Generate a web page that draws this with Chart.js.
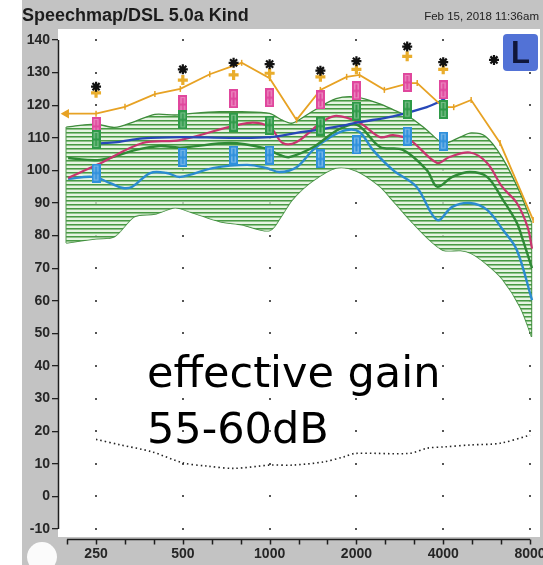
<!DOCTYPE html>
<html>
<head>
<meta charset="utf-8">
<title>Speechmap/DSL 5.0a Kind</title>
<script src="https://cdn.jsdelivr.net/npm/chart.js@4.4.1/dist/chart.umd.min.js"></script>
<style>
  html, body { margin: 0; padding: 0; background: #fff; }
  #wrap  { position: relative; width: 543px; height: 565px; overflow: hidden; }
  #chart { position: absolute; left: 0; top: 0; }
  .hdr-title { position: absolute; left: 22px; top: 6px; white-space: nowrap;
               font: bold 18px 'Liberation Sans', Arial, sans-serif; line-height: 18px; color: #1c1c1c; }
  .hdr-date  { position: absolute; right: 4px; top: 10px; white-space: nowrap;
               font: 11.5px 'Liberation Sans', Arial, sans-serif; line-height: 12px; color: #222; }
  .side-box  { position: absolute; left: 503px; top: 34px; width: 35px; height: 37px; border-radius: 4px;
               background: #5272d6; color: #10163a; text-align: center;
               font: bold 31px 'Liberation Sans', Arial, sans-serif; line-height: 37px; }
  .note      { position: absolute; left: 147px; top: 344px; white-space: nowrap;
               font: 43px 'DejaVu Sans', Verdana, sans-serif; line-height: 56px; color: #000; }
</style>
</head>
<body>
<div id="wrap">
  <canvas id="chart" width="543" height="565"></canvas>
  <div class="hdr-title">Speechmap/DSL 5.0a Kind</div>
  <div class="hdr-date">Feb 15, 2018 11:36am</div>
  <div class="side-box">L</div>
  <div class="note">effective gain<br>55-60dB</div>
</div>
<script>
/* ── Data (frequency in Hz, level in dB SPL) ─────────────────────────────── */

var xTickLabels = [250, 500, 1000, 2000, 4000, 8000];
var yTicks      = [-10, 0, 10, 20, 30, 40, 50, 60, 70, 80, 90, 100, 110, 120, 130, 140];

// speech range band (hatched)
var bandFreq  = [197, 250, 290, 340, 400, 470, 540, 670, 800, 1000, 1100, 1200, 1400, 1700,
                 2000, 2400, 2700, 3100, 3500, 4000, 4600, 5000, 5600, 6400, 7400, 8100];
var bandUpper = [113.3, 114.2, 113.2, 115, 117.2, 117, 117.5, 118, 118, 117.5, 115.5, 114.5, 118, 122,
                 122.5, 120.5, 118.5, 116, 112.5, 108.4, 110.3, 111.5, 110.5, 104, 93, 84];
var bandLower = [77.7, 79, 79.7, 85.8, 86.6, 88.5, 87, 84.3, 83.3, 81.5, 86, 91, 96.5, 100.7,
                 99.8, 95.2, 90.3, 84.3, 79.5, 75.5, 75.4, 74.5, 71.5, 66.7, 58, 49];

// orange limit line
var orangeFreq  = [197, 250, 315, 400, 490, 620, 800, 1000, 1240, 1500, 1850, 2050, 2500, 3050,
                   3250, 4000, 4350, 5000, 6300, 8200];
var orangeLevel = [117.4, 117.4, 119.5, 123.4, 125, 129.5, 133, 128.3, 115.5, 124.7, 128.7, 129.3,
                   124.7, 126.8, 126.8, 119.4, 119.4, 121.6, 108.4, 84.8];

// audiometric points
var starFreq  = [250, 500, 750, 1000, 1500, 2000, 3000, 4000, 6000];
var starLevel = [125.7, 131, 133, 132.6, 130.6, 133.5, 138, 133.2, 133.9];
var plusLevel = [123.8, 127.7, 129.3, 129.8, 128.7, 131, 135, 131, null];

var markerFreq  = [250, 500, 750, 1000, 1500, 2000, 3000, 4000];
var pinkLevel   = [113.5, 120.2, 122, 122.3, 121.6, 124.4, 127, 124.7];
var greenLevel  = [109.5, 115.5, 114.8, 113.9, 113.6, 118.2, 118.8, 118.7];
var blueLevel   = [99.2, 104, 104.7, 104.7, 103.5, 107.8, 110.5, 109];

// measured curves
var magentaFreq  = [200, 252, 363, 489, 835, 1000, 1110, 1240, 1500, 1700, 2050, 2420, 2680, 3070,
                    3810, 4200, 4950, 5680, 6400, 7200, 7850, 8130];
var magentaLevel = [97.7, 101.7, 108.4, 109.3, 114.5, 113.3, 108.4, 108.7, 114.5, 116.7, 114.6, 110.2,
                    110.8, 109.3, 102.3, 104.1, 105.5, 102.3, 95, 90, 82.6, 76];

var greenFreq      = [200, 258, 344, 417, 490, 730, 950, 1090, 1170, 1420, 1720, 2010, 2415, 2900,
                      3510, 3810, 4300, 4950, 5680, 6450, 7200, 7560, 8130];
var greenLineLevel = [103.8, 103.2, 106.3, 107.5, 107, 108.4, 106.9, 104.7, 104.1, 107.2, 112.4, 114,
                      107.2, 106.3, 100.1, 95, 98, 99.5, 98, 90.9, 83.9, 78.6, 70];

var lightBlueFreq  = [200, 244, 280, 310, 334, 385, 440, 490, 635, 835, 980, 1080, 1240, 1415, 1620,
                      1850, 2050, 2280, 2680, 3230, 3810, 4300, 4950, 5680, 6450, 7200, 8130];
var lightBlueLevel = [97.4, 98, 96.1, 94.6, 95, 99.2, 99.2, 98, 100.7, 101.7, 100.7, 99.5, 101, 106.3,
                      110.2, 112.4, 111.8, 106.3, 100.1, 95, 84.8, 88.8, 90, 87.9, 81.7, 75.6, 60.2];

var darkBlueFreq  = [250, 296, 363, 490, 730, 1000, 1240, 1500, 1850, 2050, 2680, 3510, 4000];
var darkBlueLevel = [108.2, 108.7, 109.8, 110.2, 110, 110.2, 111.5, 112.6, 114, 114.8, 116.6, 119.4, 121.6];

// threshold (dotted)
var dotFreq  = [250, 304, 390, 500, 606, 753, 1000, 1200, 1540, 1820, 1980, 3050, 3520, 4050, 5000, 6300, 8000];
var dotLevel = [17.5, 15.8, 13.7, 10.3, 9.3, 8.6, 9.6, 9.6, 10.6, 12.2, 13.2, 13.2, 14.8, 15.2, 15.8, 16.3, 18.8];

/* ── Helpers ────────────────────────────────────────────────────────────── */

function _pts(freq, level) {
  var out = [];
  freq.forEach(function (f, i) {
    if (level[i] !== null) out.push({ x: f, y: level[i] });
  });
  return out;
}

function _hatch(ctx) {
  var c = document.createElement('canvas');
  c.width = 8; c.height = 4;
  var g = c.getContext('2d');
  g.fillStyle = 'rgba(222,240,216,0.75)'; g.fillRect(0, 0, 8, 4);
  g.fillStyle = '#489a44';                g.fillRect(0, 0, 8, 1);
  g.fillStyle = 'rgba(72,154,68,0.55)';   g.fillRect(0, 1, 8, 1);
  return ctx.createPattern(c, 'repeat');
}

// vertical "+" bar marker used for the measured points
function _barMarker(color) {
  var c = document.createElement('canvas');
  c.width = 9; c.height = 19;
  var g = c.getContext('2d');
  g.fillStyle = color;                    g.fillRect(0, 0, 9, 19);
  g.fillStyle = 'rgba(255,255,255,0.35)'; g.fillRect(2, 2, 5, 15);
  g.fillStyle = color;                    g.fillRect(3.5, 3, 2, 13);
  g.fillRect(1, 8.5, 7, 2);
  return c;
}

function _isOctave(v) {
  return xTickLabels.some(function (t) { return Math.abs(t - v) < 0.5; });
}

/* ── Decoration plugin: paper, grid dots, axis lines ────────────────────── */

var decor = {
  id: 'decor',
  beforeDraw: function (chart) {
    var c = chart.ctx, a = chart.chartArea;
    c.save();
    c.fillStyle = '#ffffff'; c.fillRect(0, 0, chart.width, chart.height);
    c.fillStyle = '#c3c3c3'; c.fillRect(22, 0, chart.width - 22, chart.height);
    c.fillStyle = '#ffffff'; c.fillRect(a.left, a.top - 1, a.right - a.left, a.bottom - a.top + 1);
    c.beginPath(); c.arc(42, 557, 15, 0, Math.PI * 2);
    c.fillStyle = '#fbfbfb'; c.fill();
    c.restore();
  },
  beforeDatasetsDraw: function (chart) {
    var c = chart.ctx, xs = chart.scales.x, ys = chart.scales.y;
    c.save();
    c.fillStyle = '#555';
    xTickLabels.forEach(function (f) {
      yTicks.forEach(function (v) {
        c.fillRect(Math.round(xs.getPixelForValue(f)) - 1, Math.round(ys.getPixelForValue(v)) - 1, 2, 2);
      });
    });
    c.restore();
  },
  afterDraw: function (chart) {
    var c = chart.ctx, a = chart.chartArea, xs = chart.scales.x, ys = chart.scales.y;
    var ticks = xs.ticks;
    var yb = a.bottom + 2.5;
    c.save();
    c.strokeStyle = '#1e1e1e';
    c.lineWidth = 1.5;
    c.beginPath();
    c.moveTo(a.left + 0.5, ys.getPixelForValue(140));
    c.lineTo(a.left + 0.5, ys.getPixelForValue(-10));
    c.stroke();
    c.beginPath();
    c.moveTo(xs.getPixelForValue(ticks[0].value), yb);
    c.lineTo(xs.getPixelForValue(ticks[ticks.length - 1].value), yb);
    ticks.forEach(function (t) {
      var px = Math.round(xs.getPixelForValue(t.value)) + 0.5;
      c.moveTo(px, yb);
      c.lineTo(px, yb + 5);
    });
    c.stroke();
    c.restore();
  }
};

/* ── Chart ──────────────────────────────────────────────────────────────── */

var canvas = document.getElementById('chart');
var ctx    = canvas.getContext('2d');
var hatch  = _hatch(ctx);

var lineBase = { pointRadius: 0, fill: false, tension: 0.35 };

var datasets = [
  // markers on top
  { label: 'UCL', data: _pts(starFreq, starLevel), showLine: false, order: 1,
    pointStyle: 'star', pointRadius: 5, borderColor: '#111', borderWidth: 2.2, backgroundColor: '#111' },
  { label: 'Average', data: _pts(markerFreq, greenLevel), showLine: false, order: 2,
    pointStyle: _barMarker('#2e9a48'), pointRadius: 5 },
  { label: 'Soft', data: _pts(markerFreq, blueLevel), showLine: false, order: 2,
    pointStyle: _barMarker('#2f90dc'), pointRadius: 5 },
  { label: 'Loud', data: _pts(markerFreq, pinkLevel), showLine: false, order: 2.5,
    pointStyle: _barMarker('#e0479d'), pointRadius: 5 },
  { label: 'Target UCL', data: _pts(starFreq, plusLevel), showLine: false, order: 3,
    pointStyle: 'cross', pointRadius: 5, borderColor: '#e9ad2c', borderWidth: 3.2 },

  // measured curves
  Object.assign({}, lineBase, { label: 'MPO', data: _pts(orangeFreq, orangeLevel), order: 4, tension: 0,
    borderColor: '#e7a224', borderWidth: 1.8, backgroundColor: '#e7a224',
    pointRadius: function (c) { return c.dataIndex === 0 ? 4 : 3; },
    pointStyle: function (c) { return c.dataIndex === 0 ? 'triangle' : 'line'; },
    rotation: function (c) { return c.dataIndex === 0 ? -90 : 90; },
    pointBorderWidth: 1.5 }),
  Object.assign({}, lineBase, { label: 'Dark', data: _pts(darkBlueFreq, darkBlueLevel), order: 5,
    borderColor: '#2748b8', borderWidth: 2.3,
    pointStyle: 'crossRot', pointBorderWidth: 2,
    pointRadius: function (c) { return c.dataIndex === darkBlueFreq.length - 1 ? 5 : 0; } }),
  Object.assign({}, lineBase, { label: 'Loud speech', data: _pts(magentaFreq, magentaLevel), order: 6,
    borderColor: '#c8346e', borderWidth: 2.2 }),
  Object.assign({}, lineBase, { label: 'Average speech', data: _pts(greenFreq, greenLineLevel), order: 6,
    borderColor: '#2f8a36', borderWidth: 2.4 }),
  Object.assign({}, lineBase, { label: 'Soft speech', data: _pts(lightBlueFreq, lightBlueLevel), order: 6,
    borderColor: '#2b8bd0', borderWidth: 2.4 }),
  Object.assign({}, lineBase, { label: 'Threshold', data: _pts(dotFreq, dotLevel), order: 7,
    borderColor: '#222', borderWidth: 1.6, borderDash: [1.5, 3], tension: 0.3 }),

  // speech band
  Object.assign({}, lineBase, { label: 'Band upper', data: _pts(bandFreq, bandUpper), order: 9,
    borderColor: '#3f8c3c', borderWidth: 1.3, tension: 0.3, fill: '+1', backgroundColor: hatch }),
  Object.assign({}, lineBase, { label: 'Band lower', data: _pts(bandFreq, bandLower), order: 9,
    borderColor: '#3f8c3c', borderWidth: 1.3, tension: 0.3 }),
  Object.assign({}, lineBase, { label: 'Band edge', order: 9, tension: 0, borderColor: '#3f8c3c', borderWidth: 1.3,
    data: [{ x: bandFreq[0], y: bandLower[0] }, { x: bandFreq[0], y: bandUpper[0] }] }),
  Object.assign({}, lineBase, { label: 'Band end', order: 9, tension: 0, borderColor: '#3f8c3c', borderWidth: 1.3,
    data: [{ x: bandFreq[bandFreq.length - 1], y: bandLower[bandLower.length - 1] },
           { x: bandFreq[bandFreq.length - 1], y: bandUpper[bandUpper.length - 1] }] })
];

var tickFont = { family: "'Liberation Sans', Arial, sans-serif", size: 14, weight: 'bold' };

new Chart(canvas, {
  type: 'line',
  data: { datasets: datasets },
  options: {
    responsive: false,
    animation: false,
    devicePixelRatio: 1,
    layout: { autoPadding: false, padding: { top: 30, right: 3, left: 0, bottom: 0 } },
    plugins: { legend: { display: false }, tooltip: { enabled: false } },
    scales: {
      x: {
        type: 'logarithmic',
        min: 184.5,
        max: 8665,
        afterBuildTicks: function (s) {
          var t = [];
          for (var k = -1; k <= 15; k++) t.push({ value: 250 * Math.pow(2, k / 3) });
          s.ticks = t;
        },
        afterFit: function (s) { s.height = 28; s.paddingLeft = 0; s.paddingRight = 0; },
        border: { display: false },
        grid: { drawOnChartArea: false, drawTicks: true, tickLength: 7, color: 'rgba(0,0,0,0)' },
        ticks: {
          autoSkip: false, maxRotation: 0, padding: 2, color: '#262626', font: tickFont,
          callback: function (v) { return _isOctave(v) ? String(Math.round(v)) : ''; }
        }
      },
      y: {
        type: 'linear',
        min: -12.45,
        max: 143.07,
        afterBuildTicks: function (s) {
          s.ticks = yTicks.map(function (v) { return { value: v }; });
        },
        afterFit: function (s) { s.width = 58; s.paddingTop = 0; s.paddingBottom = 0; },
        border: { display: false },
        grid: { drawOnChartArea: false, drawTicks: true, tickLength: 6, color: '#222', lineWidth: 1.3 },
        ticks: { padding: 2, color: '#262626', font: tickFont }
      }
    }
  },
  plugins: [decor]
});
</script>
</body>
</html>
